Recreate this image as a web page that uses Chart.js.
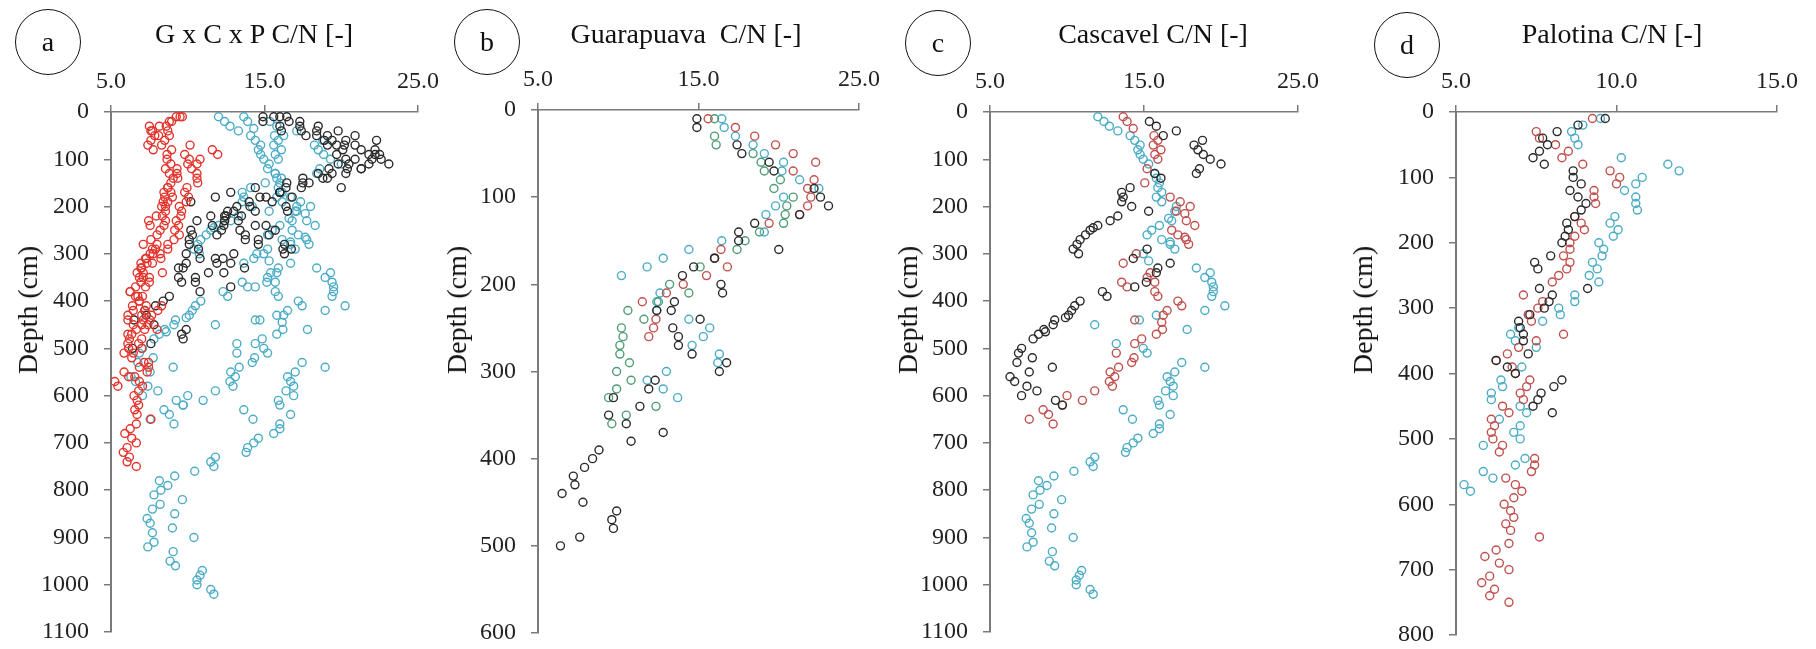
<!DOCTYPE html>
<html>
<head>
<meta charset="utf-8">
<title>C/N depth profiles</title>
<script src="https://cdn.jsdelivr.net/npm/chart.js@4.4.0/dist/chart.umd.min.js"></script>
<style>
    body {
        margin: 0;
        background: #fff;
        width: 1816px;
        height: 649px;
        position: relative;
        overflow: hidden;
        font-family: "Liberation Serif", "Times New Roman", serif;
        color: #111;
    }
    canvas {
        position: absolute;
        top: 0;
    }
    .tag {
        position: absolute;
        width: 66px;
        height: 66px;
        box-sizing: border-box;
        border: 1.5px solid #111;
        border-radius: 50%;
        display: flex;
        align-items: center;
        justify-content: center;
        font-size: 28px;
        line-height: 28px;
    }
    .title {
        position: absolute;
        top: 20px;
        font-size: 28px;
        line-height: 28px;
        white-space: pre;
        transform: translateX(-50%);
    }
    .ylab {
        position: absolute;
        font-size: 28px;
        line-height: 28px;
        white-space: nowrap;
        transform: translate(-50%, -50%) rotate(-90deg);
    }
</style>
</head>
<body>

<canvas id="chartAll" width="440" height="649" style="left:0px"></canvas>
<canvas id="chartGua" width="440" height="649" style="left:440px"></canvas>
<canvas id="chartCas" width="460" height="649" style="left:880px"></canvas>
<canvas id="chartPal" width="476" height="649" style="left:1340px"></canvas>

<div class="tag" style="left:15px; top:9px">a</div>
<div class="tag" style="left:454px; top:9px">b</div>
<div class="tag" style="left:905px; top:10px">c</div>
<div class="tag" style="left:1374px; top:12px">d</div>

<div class="title" style="left:254px">G x C x P C/N [-]</div>
<div class="title" style="left:686px">Guarapuava  C/N [-]</div>
<div class="title" style="left:1153px">Cascavel C/N [-]</div>
<div class="title" style="left:1612px">Palotina C/N [-]</div>

<div class="ylab" style="left:28px; top:310px">Depth (cm)</div>
<div class="ylab" style="left:457px; top:310px">Depth (cm)</div>
<div class="ylab" style="left:908px; top:310px">Depth (cm)</div>
<div class="ylab" style="left:1363px; top:310px">Depth (cm)</div>

<script>
// each profile point is [C/N, depth in cm]

// Guarapuava
const guaBlack = [[14.9,10],[14.9,20],[17.4,40],[17.7,50],[19.4,60],[19.7,70],[22.2,90],[22.6,100],[23.1,110],[21.3,120],
    [18.5,130],[17.5,140],[17.5,150],[20.0,160],[16.0,170],[14.7,180],[14.0,190],[16.4,200],[16.5,210],[13.5,220],
    [13.3,230],[12.4,230],[15.1,240],[13.4,250],[13.75,260],[13.75,270],[14.6,280],[16.75,290],[16.3,300],[12.3,310],
    [11.9,320],[9.7,330],[11.35,340],[9.4,350],[10.5,360],[12.8,370],[10.8,380],[8.8,390],[8.4,400],[7.9,410],
    [7.2,420],[7.3,430],[6.5,440],[7.8,450],[9.9,460],[9.6,470],[9.7,480],[7.6,490],[6.4,500]];
const guaRed = [[15.6,10],[17.3,20],[18.5,30],[19.8,40],[20.9,50],[22.3,60],[20.9,70],[22.2,80],[21.8,90],[22.0,100],
    [21.8,110],[21.3,120],[19.4,130],[16.4,160],[16.0,170],[16.8,180],[15.5,190],[14.05,200],[13.0,210],[11.5,220],
    [12.35,240],[12.2,250],[11.9,260]];
const guaCyan = [[16.45,10],[16.6,20],[17.3,30],[18.4,40],[19.1,50],[20.3,60],[20.2,70],[21.3,80],[22.5,90],[20.3,100],
    [19.8,110],[19.2,120],[19.1,140],[16.45,150],[14.4,160],[12.8,170],[11.8,180],[10.2,190],[12.6,210],[12.4,220],
    [12.4,230],[14.4,240],[15.7,250],[15.3,260],[14.6,270],[16.3,280],[16.2,290],[13.0,300],[11.8,310],[12.8,320],
    [13.7,330]];
const guaGreen = [[16.0,10],[16.0,30],[16.1,40],[18.4,50],[18.9,60],[19.1,70],[20.1,80],[19.7,90],[20.9,100],[20.5,110],
    [20.4,120],[20.3,130],[18.8,140],[17.9,150],[17.4,160],[16.0,170],[15.1,180],[13.2,200],[14.4,210],[12.5,220],
    [10.6,230],[11.6,240],[10.2,250],[10.3,260],[10.1,270],[10.1,280],[10.7,290],[9.9,300],[10.8,310],[9.9,320],
    [9.4,330],[12.35,340],[10.5,350],[9.6,360]];

// Cascavel
const casCyan = [[12.0,10],[12.4,20],[12.75,30],[13.3,40],[14.1,50],[14.4,60],[14.75,70],[14.6,80],[14.75,90],[14.95,100],
    [15.3,110],[15.7,130],[15.8,140],[16.0,150],[15.9,160],[16.15,170],[15.8,180],[16.15,190],[17.1,200],[17.0,210],
    [16.6,225],[16.8,230],[16.0,240],[15.5,250],[15.2,260],[16.15,270],[16.7,275],[16.7,280],[17.0,290],[14.95,300],
    [15.3,315],[18.4,330],[19.3,340],[18.95,350],[19.4,360],[19.5,370],[19.5,380],[19.4,390],[20.25,410],[18.95,420],
    [15.8,430],[14.7,440],[11.8,450],[17.8,460],[13.2,490],[14.95,500],[15.2,510],[17.45,530],[18.95,540],[17.0,550],
    [16.5,560],[16.7,570],[16.9,580],[16.4,590],[16.9,600],[15.9,610],[16.0,620],[13.65,630],[16.7,640],[14.25,650],
    [16.0,660],[16.0,670],[15.6,680],[14.6,690],[14.3,700],[13.9,710],[13.8,720],[11.8,730],[11.5,740],[11.7,750],
    [10.45,760],[9.15,770],[8.15,780],[8.7,790],[8.25,800],[7.8,810],[9.65,820],[8.2,830],[7.7,840],[9.15,850],
    [7.35,860],[7.55,870],[9.0,880],[7.7,890],[10.4,900],[7.8,910],[7.4,920],[9.05,930],[8.85,950],[9.2,960],
    [10.95,970],[10.8,980],[10.6,990],[10.6,1000],[11.5,1010],[11.7,1020]];
const casRed = [[13.65,10],[13.9,20],[14.3,35],[15.65,50],[15.9,60],[15.6,70],[16.1,80],[15.7,90],[15.9,100],[15.2,120],
    [15.05,150],[16.7,180],[17.35,190],[18.0,200],[17.1,210],[17.65,215],[17.75,230],[18.3,240],[16.8,250],[17.2,260],
    [17.65,265],[17.75,270],[17.9,280],[14.5,300],[13.65,320],[15.4,340],[15.2,350],[15.7,360],[13.55,360],[13.9,370],
    [15.7,380],[15.9,390],[17.2,400],[17.45,410],[16.5,420],[16.25,430],[14.4,440],[16.15,445],[16.2,460],[15.8,470],
    [14.85,480],[14.4,490],[13.2,510],[14.35,520],[14.2,530],[13.35,540],[12.8,550],[13.1,560],[12.75,570],[12.95,580],
    [11.8,590],[10.0,600],[11.0,610],[9.7,620],[8.45,630],[8.8,640],[7.55,650],[9.1,660]];
const casBlack = [[15.35,20],[15.8,30],[17.1,40],[16.25,50],[18.8,60],[18.25,70],[18.5,80],[18.85,90],[19.3,100],[20.0,110],
    [18.6,120],[18.4,130],[15.7,130],[16.1,140],[14.1,160],[13.55,170],[13.65,180],[13.55,190],[14.2,200],[15.3,210],
    [13.3,220],[12.8,230],[12.0,240],[11.7,245],[11.5,250],[11.2,260],[10.85,270],[10.65,280],[10.4,290],[10.75,300],
    [15.2,290],[14.3,310],[16.7,320],[15.9,330],[15.8,340],[15.15,360],[14.4,370],[12.3,380],[12.6,390],[10.85,400],
    [10.5,410],[10.3,420],[10.1,430],[9.9,435],[9.2,440],[9.1,450],[8.5,460],[8.6,465],[8.15,470],[7.8,480],
    [7.05,500],[6.85,510],[7.75,520],[6.75,530],[9.05,540],[7.55,550],[6.3,560],[6.6,570],[7.4,580],[8.05,590],
    [7.05,600],[9.25,610],[9.7,620]];

// Palotina
const palBlack = [[9.65,10],[8.8,20],[8.15,30],[7.7,40],[7.85,50],[7.6,60],[7.4,70],[7.75,80],[8.65,90],[8.65,100],
    [8.9,110],[8.55,120],[8.8,130],[9.05,140],[8.9,150],[8.7,160],[8.45,170],[8.5,180],[8.4,190],[8.3,200],
    [7.95,220],[7.45,230],[7.55,240],[9.1,270],[7.6,270],[8.0,280],[7.9,290],[7.75,300],[7.3,310],[6.95,320],
    [7.0,330],[7.1,340],[7.1,350],[7.25,370],[6.25,380],[6.6,390],[6.85,400],[8.3,410],[8.05,420],[7.65,430],
    [7.55,440],[7.4,450],[8.0,460]];
const palRed = [[9.25,10],[7.5,30],[7.6,40],[8.1,50],[8.5,60],[8.3,70],[8.95,80],[9.8,90],[10.1,100],[10.0,110],
    [9.3,120],[9.3,130],[9.35,140],[8.7,160],[8.9,170],[9.0,180],[8.7,190],[8.55,200],[8.55,210],[8.35,220],
    [8.55,230],[8.45,240],[8.2,250],[8.0,260],[7.1,280],[7.7,290],[7.55,300],[7.25,310],[7.35,320],[8.35,340],
    [7.5,350],[6.95,360],[6.6,370],[6.25,380],[6.75,390],[6.85,400],[7.3,410],[7.2,420],[7.0,430],[7.1,440],
    [6.45,450],[6.65,460],[6.1,470],[6.2,480],[6.1,490],[6.15,500],[6.45,510],[6.35,520],[7.45,530],[7.45,540],
    [7.35,550],[6.55,560],[6.85,570],[7.05,580],[6.8,590],[6.5,600],[6.7,610],[6.8,620],[6.55,630],[6.7,640],
    [7.6,650],[6.65,660],[6.25,670],[5.9,680],[6.35,690],[6.65,700],[6.05,710],[5.8,720],[6.2,730],[6.05,740],
    [6.65,750]];
const palCyan = [[9.5,10],[8.95,20],[8.6,30],[8.7,40],[8.8,50],[10.15,70],[11.6,80],[11.95,90],[10.8,100],[10.6,110],
    [10.25,120],[10.6,130],[10.6,140],[10.65,150],[9.95,160],[9.8,170],[10.05,180],[9.9,190],[9.45,200],[9.6,210],
    [9.55,220],[9.25,230],[9.4,240],[9.15,250],[9.45,260],[8.7,280],[8.7,290],[8.2,300],[8.25,310],[7.7,320],
    [6.95,330],[6.7,340],[6.85,350],[7.5,360],[7.05,390],[6.4,410],[6.45,420],[6.1,430],[6.1,440],[7.0,450],
    [7.2,460],[6.35,470],[7.0,480],[6.8,490],[7.0,500],[5.85,510],[7.15,530],[6.85,540],[5.85,550],[6.15,560],
    [5.25,570],[5.45,580]];

const RED = "#c0504d";
const RED_BRIGHT = "#e2342c";
const CYAN = "#4bacc6";
const GREEN = "#4f9d74";
const BLACK = "#2a2a2a";
const AXIS = "#7a7a7a";

function series(points, color) {
    return {
        data: points.map(p => ({x: p[0], y: p[1]})),
        borderColor: color,
        backgroundColor: "rgba(0,0,0,0)",
        borderWidth: 1.4,
        pointRadius: 4,
        pointHoverRadius: 4
    };
}

const tickFont = {family: "'Liberation Serif', 'Times New Roman', serif", size: 24};

function drawPanel(canvasId, datasets, xMax, xStep, yMax, pad) {
    new Chart(document.getElementById(canvasId), {
        type: "scatter",
        data: {datasets: datasets},
        options: {
            responsive: false,
            animation: false,
            layout: {padding: pad},
            plugins: {
                legend: {display: false},
                tooltip: {enabled: false}
            },
            scales: {
                x: {
                    type: "linear",
                    position: "top",
                    min: 5,
                    max: xMax,
                    ticks: {
                        stepSize: xStep,
                        callback: v => v.toFixed(1),
                        font: tickFont,
                        color: "#222",
                        padding: 9,
                        maxRotation: 0
                    },
                    grid: {drawOnChartArea: false, tickLength: 7, color: AXIS, lineWidth: 1.5},
                    border: {color: AXIS, width: 1.5},
                    // fixed axis band, edge labels may hang over the padding
                    afterFit: s => {
                        s.height = 60;
                        s.paddingLeft = 0;
                        s.paddingRight = 0;
                    }
                },
                y: {
                    type: "linear",
                    reverse: true,
                    min: 0,
                    max: yMax,
                    ticks: {
                        stepSize: 100,
                        callback: v => String(v),
                        font: tickFont,
                        color: "#222",
                        padding: 15
                    },
                    grid: {drawOnChartArea: false, tickLength: 7, color: AXIS, lineWidth: 1.5},
                    border: {color: AXIS, width: 2},
                    afterFit: s => {
                        s.width = 80;
                        s.paddingTop = 0;
                        s.paddingBottom = 0;
                    }
                }
            }
        }
    });
}

// a: all three sites together, one colour per site
drawPanel("chartAll", [
    series(palRed.concat(palCyan, palBlack), RED_BRIGHT),
    series(guaBlack.concat(guaRed, guaCyan, guaGreen), BLACK),
    series(casCyan.concat(casRed, casBlack), CYAN)
], 25, 10, 1100, {left: 31, top: 52, right: 22, bottom: 17});

// b: Guarapuava
drawPanel("chartGua", [
    series(guaBlack, BLACK),
    series(guaRed, RED),
    series(guaGreen, GREEN),
    series(guaCyan, CYAN)
], 25, 10, 600, {left: 18, top: 50, right: 21, bottom: 16});

// c: Cascavel
drawPanel("chartCas", [
    series(casBlack, BLACK),
    series(casRed, RED),
    series(casCyan, CYAN)
], 25, 10, 1100, {left: 30, top: 52, right: 42, bottom: 17});

// d: Palotina
drawPanel("chartPal", [
    series(palBlack, BLACK),
    series(palRed, RED),
    series(palCyan, CYAN)
], 15, 5, 800, {left: 36, top: 52, right: 39, bottom: 14});
</script>
</body>
</html>
